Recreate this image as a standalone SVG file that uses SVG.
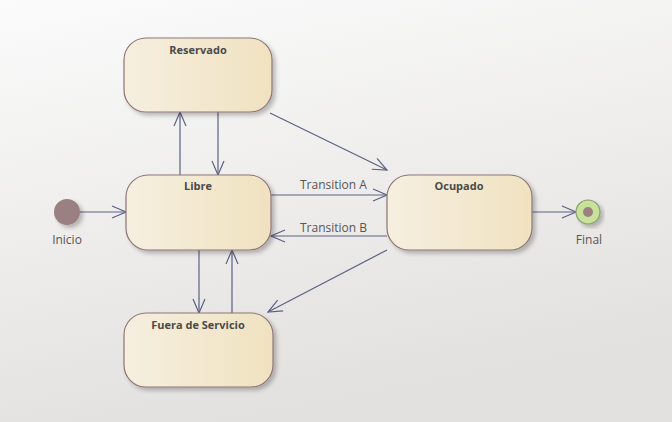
<svg xmlns="http://www.w3.org/2000/svg" width="672" height="422" viewBox="0 0 672 422">
<defs>
<linearGradient id="bg" x1="0" y1="0" x2="0.3" y2="1">
<stop offset="0" stop-color="#fbfbfb"/>
<stop offset="1" stop-color="#e3e1df"/>
</linearGradient>
<linearGradient id="st" x1="0" y1="0" x2="1" y2="0">
<stop offset="0" stop-color="#f6efe0"/>
<stop offset="1" stop-color="#f0e2c0"/>
</linearGradient>
<filter id="sh" x="-10%" y="-10%" width="130%" height="130%">
<feGaussianBlur in="SourceAlpha" stdDeviation="2"/>
<feOffset dx="3" dy="3"/>
<feComponentTransfer><feFuncA type="linear" slope="0.25"/></feComponentTransfer>
<feMerge><feMergeNode/><feMergeNode in="SourceGraphic"/></feMerge>
</filter>
<marker id="arr" markerWidth="16" markerHeight="14" refX="15" refY="7" orient="auto" markerUnits="userSpaceOnUse">
<path d="M1,1 L15,7 L1,13" fill="none" stroke="#5b6283" stroke-width="1.2"/>
</marker>
</defs>
<style>
.state{fill:url(#st);stroke:#8e7676;stroke-width:1.2;filter:url(#sh)}
.name{font-family:"Open Sans","Liberation Sans",sans-serif;font-size:11px;font-weight:bold;fill:#4a4a4a;text-anchor:middle}
.lbl{font-family:"Open Sans","Liberation Sans",sans-serif;font-size:12px;fill:#555}
.edge{fill:none;stroke:#5b6283;stroke-width:1.2;marker-end:url(#arr)}
</style>
<rect width="672" height="422" fill="url(#bg)"/>
<g id="connectors">
<line class="edge" x1="80" y1="212" x2="126" y2="212"/>
<line class="edge" x1="180" y1="175" x2="180" y2="112"/>
<line class="edge" x1="218" y1="112" x2="218" y2="175"/>
<line class="edge" x1="270" y1="113" x2="387" y2="170"/>
<line class="edge" x1="271" y1="195" x2="387" y2="195"/>
<line class="edge" x1="387" y1="236" x2="271" y2="236"/>
<line class="edge" x1="387" y1="250" x2="268" y2="312"/>
<line class="edge" x1="199" y1="250" x2="199" y2="313"/>
<line class="edge" x1="232" y1="313" x2="232" y2="250"/>
<line class="edge" x1="532" y1="212" x2="576" y2="212"/>
<text class="lbl" x="300" y="189">Transition A</text>
<text class="lbl" x="300" y="232">Transition B</text>
</g>
<g id="inicio">
<circle cx="67" cy="212" r="13" fill="#9a8080" filter="url(#sh)"/>
<text class="lbl" x="67" y="244" text-anchor="middle" fill="#6a6a80">Inicio</text>
</g>
<g id="reservado">
<rect class="state" x="124" y="38" width="148" height="74" rx="22"/>
<text class="name" x="198" y="54">Reservado</text>
</g>
<g id="libre">
<rect class="state" x="126" y="175" width="145" height="75" rx="22"/>
<text class="name" x="198" y="190">Libre</text>
</g>
<g id="ocupado">
<rect class="state" x="387" y="175" width="145" height="75" rx="22"/>
<text class="name" x="459" y="190">Ocupado</text>
</g>
<g id="fuera">
<rect class="state" x="124" y="313" width="149" height="74" rx="22"/>
<text class="name" x="198" y="329">Fuera de Servicio</text>
</g>
<g id="final">
<circle cx="588" cy="212" r="12" fill="#c8e29a" stroke="#8aa070" stroke-width="1.2" filter="url(#sh)"/>
<circle cx="588" cy="212" r="5" fill="#9a8080"/>
<text class="lbl" x="589" y="244" text-anchor="middle" fill="#6a6a80">Final</text>
</g>
</svg>
